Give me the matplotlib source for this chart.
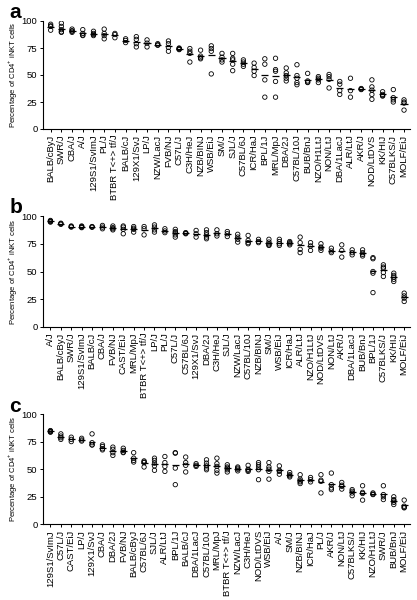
import numpy as np
import matplotlib
matplotlib.use("Agg")
import matplotlib.pyplot as plt

plt.rcParams['font.family'] = ['Liberation Sans', 'DejaVu Sans']
plt.rcParams['mathtext.fontset'] = 'custom'
plt.rcParams['mathtext.rm'] = 'Liberation Sans'

# ---- panel a: strains and per-mouse percentages ----
strains_a = ["BALB/cByJ", "SWR/J", "CBA/J", "A/J", "129S1/SvImJ", "PL/J",
             "BTBR T<+> tf/J", "BALB/cJ", "129X1/SvJ", "LP/J", "NZW/LacJ",
             "FVB/NJ", "C57L/J", "C3H/HeJ", "NZB/BINJ", "WSB/EiJ", "SM/J",
             "SJL/J", "C57BL/6J", "ICR/HaJ", "BPL/1J", "MRL/MpJ", "DBA/2J",
             "C57BL/10J", "BUB/BnJ", "NZO/H1LtJ", "NON/LtJ", "DBA/1LacJ",
             "ALR/LtJ", "AKR/J", "NOD/LtDVS", "KK/HIJ", "C57BLKS/J", "MOLF/EiJ"]
values_a = [
    [97, 95.5, 95, 91.5], [98, 95, 92, 90, 89.5], [92.5, 91, 90.5, 89.5],
    [92, 88.5, 87, 86.5], [90.5, 88.5, 87.5, 86.5], [92.5, 88.5, 86.5, 83.5],
    [88.5, 87.5, 84.5], [83.5, 82, 80], [85.5, 83, 79, 76], [82.5, 79.5, 76],
    [79, 78, 77.5], [81.5, 79, 75.5, 72], [75, 74.5, 74, 73.5],
    [74.5, 72, 70, 62], [73, 67.5, 66, 65], [77, 74.5, 72, 51],
    [70, 66.5, 64, 62], [70, 65.5, 64, 60, 54], [64, 62, 60, 58],
    [61, 57, 53.5, 49.5], [65, 60, 45.5, 29.5], [65.5, 55, 53.5, 44, 29.5],
    [56.5, 52, 49.5, 47, 44.5], [59.5, 49.5, 47, 43, 41], [51.5, 44.5, 43.5, 43],
    [48.5, 47, 45.5, 43], [50.5, 48.5, 46, 38], [44, 41.5, 35.5, 32],
    [47, 35.5, 29.5], [37.5, 37, 36.5], [45.5, 39, 36, 32, 27.5],
    [34.5, 32, 31, 30.5], [36.5, 29, 27, 25], [27, 25, 24, 17.5]]

# ---- panel b ----
strains_b = ["A/J", "BALB/cByJ", "SWR/J", "129S1/SvImJ", "BALB/cJ", "CBA/J",
             "FVB/NJ", "CAST/EiJ", "MRL/MpJ", "BTBR T<+> tf/J", "LP/J", "PL/J",
             "C57L/J", "C57BL/6J", "129X1/SvJ", "DBA/2J", "C3H/HeJ", "SJL/J",
             "NZW/LacJ", "C57BL/10J", "NZB/BINJ", "SM/J", "WSB/EiJ", "ICR/HaJ",
             "ALR/LtJ", "NZO/H1LtJ", "NOD/LtDVS", "NON/LtJ", "AKR/J",
             "DBA/1LacJ", "BUB/BnJ", "BPL/1J", "C57BLKS/J", "KK/HIJ", "MOLF/EiJ"]
values_b = [
    [96, 95.5, 95, 94.5], [93.5, 93, 92.5], [91, 90.5, 90], [91, 90.5, 90, 89.5],
    [90.5, 90, 90], [91.5, 90, 88.5], [91, 89.5, 88.5, 87.5], [91, 90, 88, 84],
    [90.5, 89, 88, 85.5], [90.5, 88.5, 83], [92, 90, 87.5, 85.5], [88.5, 86.5, 85],
    [88, 86, 85, 83, 81], [85, 84.5, 84], [87, 84, 81], [87.5, 85, 83, 81, 79.5],
    [87.5, 84, 82], [86, 84, 81.5], [83.5, 81, 79, 76.5], [82.5, 78, 76, 75],
    [79, 77, 76], [79, 76.5, 75, 74, 73.5], [79, 77, 75, 73.5], [77, 76, 75, 74],
    [81, 76, 70, 67], [76, 73, 69], [75, 72, 71, 69], [71, 68.5, 67],
    [74, 69, 63], [69.5, 67, 65], [69.5, 67, 65.5, 64], [62.5, 61.5, 50, 48.5, 31],
    [56, 54, 53, 49, 45.5], [48.5, 46.5, 45, 43, 41], [30.5, 28, 26, 23]]

# ---- panel c ----
strains_c = ["129S1/SvImJ", "C57L/J", "CAST/EiJ", "LP/J", "129X1/SvJ", "CBA/J",
             "DBA/2J", "FVB/NJ", "BALB/cByJ", "C57BL/6J", "SJL/J", "ALR/LtJ",
             "BPL/1J", "BALB/cJ", "DBA/1LacJ", "C57BL/10J", "MRL/MpJ",
             "BTBR T<+> tf/J", "NZW/LacJ", "C3H/HeJ", "NOD/LtDVS", "WSB/EiJ",
             "A/J", "SM/J", "NZB/BINJ", "ICR/HaJ", "PL/J", "AKR/J", "NON/LtJ",
             "C57BLKS/J", "KK/HIJ", "NZO/H1LtJ", "SWR/J", "BUB/BnJ", "MOLF/EiJ"]
values_c = [
    [85, 84.5, 84, 83.5], [82, 80, 78.5, 77], [79, 77, 75], [78, 76.5, 75.5],
    [82, 74, 72, 72], [72, 70.5, 68.5, 67.5], [70, 68, 65, 62.5], [69, 67, 65.5, 65],
    [65, 60, 58, 56.5], [57.5, 56.5, 56, 52], [60, 58, 55.5, 53, 49], [61.5, 56, 52.5, 48],
    [65, 64.5, 51, 36], [61, 56, 53.5, 47.5], [55, 53.5, 52.5], [58.5, 55.5, 53, 51, 49.5],
    [60, 55, 52.5, 49, 46.5], [54, 52, 51, 49.5, 47.5], [52, 51, 50, 48.5], [53.5, 50, 49, 48],
    [56, 54, 52, 49.5, 40.5], [56, 52, 50, 48, 41], [53, 49, 48, 45.5], [47, 45, 44, 43],
    [45, 41, 39.5, 38.5, 37], [42.5, 40.5, 38.5], [45, 40, 39, 28.5], [46.5, 36, 33, 31.5],
    [38, 35.5, 34.5, 32], [31.5, 30, 28.5, 26], [35, 29, 28, 22], [28.5, 27.5, 27],
    [35, 27, 25, 22.5], [25, 22.5, 21.5, 20, 18], [22, 16.5, 15.5, 15]]

panels = [
    ("a", strains_a, values_a, [0.103, 0.785, 0.880, 0.180], 0.970),
    ("b", strains_b, values_b, [0.103, 0.455, 0.880, 0.185], 0.645),
    ("c", strains_c, values_c, [0.103, 0.126, 0.880, 0.184], 0.313),
]

fig = plt.figure(figsize=(4.17, 6.0), dpi=100)

for letter, strains, values, rect, ytxt in panels:
    ax = fig.add_axes(rect)
    for i, vals in enumerate(values):
        ax.scatter(np.full(len(vals), i), vals, s=10, facecolors='none',
                   edgecolors='black', linewidths=0.6, zorder=3)
        ax.hlines(np.mean(vals), i - 0.33, i + 0.33, color='black', lw=0.9, zorder=4)
    ax.set_xlim(-0.72, len(strains) - 0.45)
    ax.set_ylim(0, 100)
    ax.set_yticks([0, 25, 50, 75, 100])
    ax.set_xticks(range(len(strains)))
    ax.set_xticklabels(strains, rotation=90, fontsize=6.8)
    ax.tick_params(axis='y', labelsize=6.8, length=2.5, width=0.7, pad=1.5)
    ax.tick_params(axis='x', length=2.5, width=0.7, pad=1.5)
    for s in ['top', 'right']:
        ax.spines[s].set_visible(False)
    for s in ['left', 'bottom']:
        ax.spines[s].set_linewidth(0.8)
    ax.set_ylabel("Percentage of CD4$^{+}$ iNKT cells", fontsize=5.5, labelpad=2)
    fig.text(0.022, ytxt, letter, fontsize=15, fontweight='bold', va='baseline')

fig.savefig("out.png", dpi=100)
